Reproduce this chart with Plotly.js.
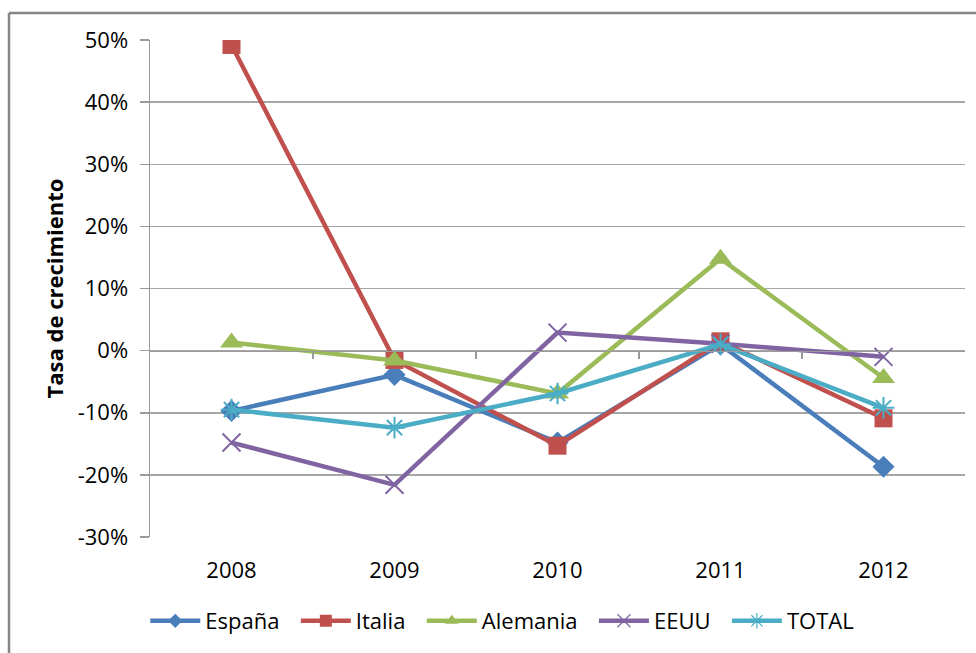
<!DOCTYPE html>
<html>
<head>
<meta charset="utf-8">
<script src="https://cdn.plot.ly/plotly-3.0.1.min.js"></script>
<style>
html,body{margin:0;padding:0;background:#fff;}
#chart{width:976px;height:653px;}
</style>
</head>
<body>
<div id="chart"></div>
<script>
const years = ["2008", "2009", "2010", "2011", "2012"];
const espana   = [-9.7, -3.9, -14.8, 1.0, -18.7];
const italia   = [49.2, -1.5, -15.3, 1.5, -10.9];
const alemania = [1.3, -1.6, -6.9, 14.8, -4.4];
const eeuu     = [-14.8, -21.6, 2.9, 1.1, -1.0];
const total    = [-9.5, -12.4, -6.9, 1.0, -9.2];
const yTicks = [-30, -20, -10, 0, 10, 20, 30, 40, 50];
const yTickText = yTicks.map(v => v + '%');

const idx = years.map((_, i) => i);
const toFrac = v => v / 100;
const pad = '\u00a0\u00a0';

function series(name, vals, color, symbol, size, lsize, open) {
  const marker = {symbol: symbol, size: size, color: color};
  const lmarker = {symbol: symbol, size: lsize, color: color};
  if (open) { marker.line = {color: color, width: 2}; lmarker.line = {color: color, width: 1.2}; }
  return [{
    x: idx, y: vals.map(toFrac), name: name, type: 'scatter', mode: 'lines+markers',
    line: {color: color, width: 4.5}, marker: marker, hoverinfo: 'skip', showlegend: false
  }, {
    x: [null], y: [null], name: name + pad, type: 'scatter', mode: 'lines+markers',
    line: {color: color, width: 4.5}, marker: lmarker, hoverinfo: 'skip', showlegend: true
  }];
}

const s = [
  series('España', espana, '#4A7EBB', 'diamond', 17, 11, false),
  series('Italia', italia, '#C0504D', 'square', 18, 12, false),
  series('Alemania', alemania, '#9BBB59', 'triangle-up', 20, 12, false),
  series('EEUU', eeuu, '#8064A2', 'x-thin-open', 18, 13, true),
  series('TOTAL', total, '#4BACC6', 'asterisk-open', 18, 13, true)
];
const data = s.map(p => p[0]).concat(s.map(p => p[1]));
data.push({x: [-0.5, 4.5], y: [0, 0], xaxis: 'x2', type: 'scatter', mode: 'lines',
   line: {color: 'rgba(0,0,0,0)'}, showlegend: false, hoverinfo: 'skip'});

const font = "'Open Sans', 'Liberation Sans', sans-serif";
const layout = {
  width: 976, height: 653,
  margin: {l: 150, r: 11, t: 40, b: 116},
  paper_bgcolor: '#fff', plot_bgcolor: '#fff',
  font: {family: font, size: 22, color: '#000'},
  showlegend: true,
  legend: {orientation: 'h', x: 0.439, xanchor: 'center', y: -0.169, yanchor: 'middle',
           font: {family: font, size: 22, color: '#000'}, itemwidth: 50, traceorder: 'normal'},
  xaxis: {
    range: [-0.5, 4.5], tickvals: idx, ticktext: years,
    showgrid: false, zeroline: false, showline: false,
    ticks: 'outside', ticklen: 14, tickcolor: 'rgba(0,0,0,0)',
    tickfont: {family: font, size: 22, color: '#000'}, fixedrange: true
  },
  xaxis2: {
    overlaying: 'x', anchor: 'free', position: 0.375, side: 'bottom',
    range: [-0.5, 4.5], tickvals: [0.5, 1.5, 2.5, 3.5], showticklabels: false,
    showgrid: false, zeroline: false, showline: true, linecolor: '#9a9a9a', linewidth: 1.5,
    ticks: 'outside', ticklen: 7, tickcolor: '#9a9a9a', tickwidth: 1.5
  },
  yaxis: {
    range: [-0.3, 0.5], tickvals: yTicks.map(toFrac), ticktext: yTickText,
    showgrid: true, gridcolor: '#a6a6a6', gridwidth: 1.5,
    zeroline: false, showline: true, linecolor: '#9a9a9a', linewidth: 1.5,
    ticks: 'outside', ticklen: 9, tickcolor: '#9a9a9a', tickwidth: 1.5,
    ticklabelstandoff: 7,
    tickfont: {family: font, size: 22, color: '#000'},
    title: {text: 'Tasa de crecimiento', font: {family: font, size: 22, color: '#000', weight: 'bold'}, standoff: 8},
    fixedrange: true
  },
  shapes: [
    {type: 'line', xref: 'paper', yref: 'paper', x0: -0.173, x1: -0.173, y0: 1.0543, y1: -0.3,
     line: {color: '#868686', width: 2.5}},
    {type: 'line', xref: 'paper', yref: 'paper', x0: -0.173, x1: 1.05, y0: 1.0543, y1: 1.0543,
     line: {color: '#868686', width: 2.5}}
  ]
};

Plotly.newPlot('chart', data, layout, {displayModeBar: false, staticPlot: true});
</script>
</body>
</html>
